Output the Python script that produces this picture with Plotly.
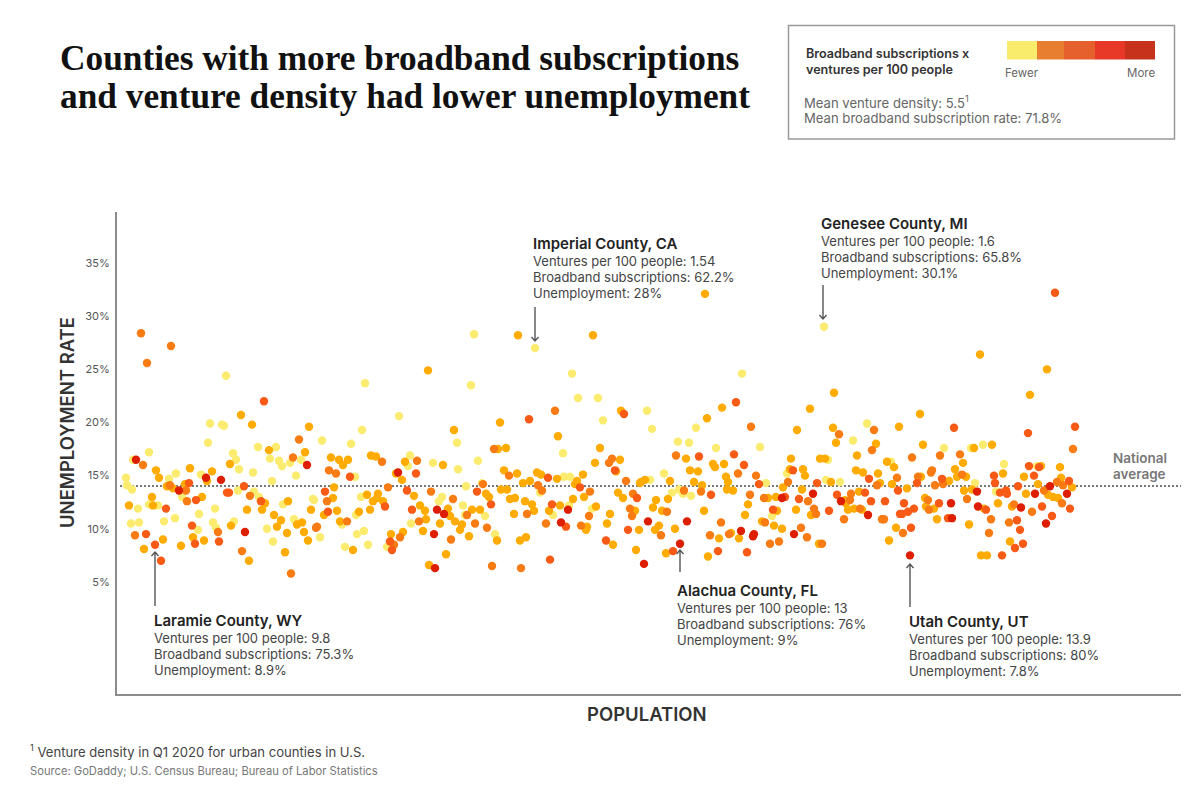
import plotly.graph_objects as go

# (population rank, unemployment %) by colour class
yellow = [(109,24.4),(248,23.7),(93,19.9),(105,19.8),(107,19.7),(245,19.3),(205,18.3),(91,18.1),(234,18.0),(141,17.7),(159,17.7),
(116,17.1),(32,17.2),(153,16.6),(184,16.5),(162,16.4),(173,16.2),(165,15.9),(119,16.5),(122,15.6),(16,16.5),(136,15.3),(59,15.2),
(84,15.1),(179,15.0),(238,14.9),(52,14.7),(9,14.8),(155,14.5),(10,14.1),(15,13.7),(121,13.6),(137,13.5),(142,13.0),(65,13.0),
(166,12.3),(196,12.8),(197,12.7),(244,13.0),(32,12.3),(41,12.2),(21,11.9),(98,11.9),(82,11.4),(239,11.3),(58,11.0),(47,10.7),
(14,10.5),(22,10.6),(177,10.9),(225,10.4),(96,10.6),(99,10.1),(117,10.7),(150,10.0),(81,9.9),(247,9.8),(240,9.5),(203,9.2),
(156,8.8),(251,8.5),(228,8.3),
(357,28.3),(418,27.0),(455,24.6),(354,23.5),(461,22.3),(481,22.3),(486,20.2),(282,20.6),(340,18.1),(446,17.1),(293,16.9),(361,16.4),
(291,15.9),(316,16.2),(341,15.6),(447,14.9),(453,14.9),(365,14.3),(349,14.0),(423,13.4),(325,13.0),(322,12.6),(452,12.2),(346,12.2),
(348,11.3),(368,11.2),(436,11.3),(475,11.9),(294,10.5),(378,9.5),(270,8.3),
(707,29.0),(625,24.6),(530,21.1),(750,19.9),(579,19.5),(535,19.4),(561,18.2),(572,18.1),(736,18.3),(599,17.6),(643,17.7),(711,16.5),
(774,16.3),(547,15.2),(670,15.2),(533,14.6),(709,14.6),(723,14.4),(649,14.3),(562,13.7),(566,13.3),(555,13.4),(574,13.1),(655,11.2),
(827,17.6),(854,17.6),(866,17.9),(887,16.1),(920,15.9),(858,14.3),(879,13.5)]

amber = [(124,20.7),(135,19.8),(192,19.6),(152,17.4),(188,17.2),(254,16.9),(259,16.8),(214,16.7),(222,16.5),(231,16.5),(226,16.0),(113,16.1),
(73,15.7),(39,15.5),(95,15.4),(42,14.8),(90,14.5),(68,14.2),(50,14.0),(56,13.8),(217,13.9),(85,13.0),(35,13.0),(148,12.4),(171,12.6),
(216,12.9),(250,13.2),(261,13.3),(256,12.6),(260,12.9),(12,12.2),(36,12.2),(130,11.8),(145,11.8),(194,11.8),(253,11.8),(157,11.3),
(220,11.7),(207,11.3),(242,11.6),(164,10.8),(223,10.7),(180,10.4),(185,10.6),(114,10.3),(160,10.2),(187,9.7),(170,9.6),(76,9.2),
(46,9.0),(87,8.9),(191,8.9),(64,8.4),(27,8.1),(236,8.0),(168,7.8),(132,7.0),
(401,28.2),(476,28.2),(311,24.9),(504,21.1),(383,20.0),(337,19.3),(441,18.7),(483,17.6),(381,17.5),(389,17.6),(503,16.5),(478,16.2),
(288,16.3),(326,16.0),(387,15.5),(400,15.2),(499,15.4),(420,15.3),(424,15.1),(440,14.7),(466,15.1),(279,15.2),(285,14.6),(460,14.5),
(458,14.2),(413,14.5),(406,14.3),(523,14.3),(384,13.7),(390,13.7),(501,13.4),(369,13.3),(372,13.0),(297,13.1),(506,12.9),(393,12.8),
(398,12.9),(456,12.8),(467,13.0),(408,12.6),(266,12.6),(303,12.2),(415,12.3),(443,12.2),(308,11.7),(331,11.9),(355,11.8),(363,11.8),
(333,11.2),(397,11.4),(417,11.7),(432,11.7),(479,12.1),(493,11.4),(518,11.7),(309,10.9),(338,10.7),(323,10.5),(345,10.4),(490,10.5),
(470,10.2),(469,9.9),(343,9.9),(306,9.8),(522,9.9),(274,9.5),(286,9.7),(352,9.3),(380,8.9),(403,8.9),(409,9.2),(496,8.5),(519,8.0),
(329,7.6),(312,6.6),
(588,32.1),(717,22.8),(605,21.4),(693,21.3),(590,20.4),(680,19.3),(716,19.5),(782,19.6),(719,18.1),(759,18.0),(740,16.9),(569,16.6),(674,16.6),
(703,16.6),(708,16.6),(770,16.3),(777,15.8),(596,16.1),(598,15.8),(607,16.1),(573,15.5),(581,15.4),(673,15.6),(686,15.6),(739,15.5),
(746,15.3),(688,15.0),(761,15.2),(609,14.9),(528,14.6),(524,14.4),(553,14.5),(577,14.4),(611,14.4),(714,14.4),(763,14.3),(775,14.2),
(585,14.1),(666,13.9),(610,13.7),(616,13.6),(685,13.7),(742,13.5),(659,13.0),(651,12.9),(728,12.7),(551,12.8),(539,12.7),(631,12.3),
(729,12.4),(536,12.0),(660,11.7),(737,11.9),(731,11.8),(745,11.8),(679,11.8),(587,11.7),(545,11.7),(628,11.3),(694,11.3),(645,10.7),
(542,10.3),(538,9.9),(558,10.0),(657,10.3),(665,10.0),(779,10.1),(614,9.6),(602,9.1),(622,9.1),(702,8.6),(772,8.9),(549,7.7),(591,7.4),
(863,26.4),(930,25.0),(913,22.6),(803,20.8),(806,17.9),(857,17.6),(875,17.9),(846,16.2),(924,15.9),(943,15.8),(838,15.6),(886,15.2),
(804,14.9),(840,14.9),(849,14.9),(907,14.9),(832,14.5),(944,14.8),(955,13.9),(921,14.2),(790,13.8),(847,13.6),(855,13.7),(909,13.3),
(931,13.2),(936,13.0),(941,12.9),(808,12.9),(881,12.4),(809,12.1),(817,11.9),(867,11.9),(895,12.1),(820,10.9),(852,10.4),(893,8.8),
(864,7.5),(870,7.5)]

orange = [(24,28.4),(54,27.2),(30,25.6),(182,18.4),(265,16.3),(176,16.7),(26,16.0),(212,15.5),(219,15.2),(53,14.1),(69,13.6),(133,13.1),
(70,12.6),(210,12.6),(101,9.7),(199,10.1),(200,10.2),(230,10.7),(18,9.4),(125,7.9),(174,5.8),
(438,21.1),(377,17.5),(300,16.4),(495,16.6),(492,16.2),(392,15.0),(509,14.5),(366,14.2),(421,14.1),(271,13.9),(314,13.5),(425,13.6),
(473,13.5),(516,13.3),(336,12.8),(513,11.9),(515,11.2),(350,11.3),(410,11.4),(472,11.2),(302,10.7),(358,10.5),(429,10.5),(464,10.3),
(370,10.1),(283,9.2),(334,9.0),(277,8.5),(375,6.5),(404,6.3),
(634,19.6),(757,19.3),(722,18.9),(755,17.4),(559,16.9),(621,15.2),(639,15.0),(780,14.8),(671,14.4),(760,14.1),(567,13.6),(584,13.5),
(633,13.2),(734,13.3),(647,12.9),(733,12.7),(691,12.6),(697,11.9),(743,11.9),(550,11.6),(699,11.4),(727,10.9),(765,10.9),(767,10.9),
(648,10.6),(604,10.6),(684,10.1),(544,9.4),(593,9.4),(612,9.5),(690,9.2),(662,8.8),(653,8.6),(705,8.6),
(956,17.5),(795,16.7),(823,16.9),(843,17.0),(815,15.5),(814,15.3),(801,14.9),(845,15.1),(826,14.2),(818,14.1),(940,14.4),(946,14.1),
(927,13.6),(811,12.7),(850,12.8),(945,12.4),(812,11.8),(897,12.3),(915,11.6),(874,10.9),(892,10.6),(786,9.6),(872,9.6)]

red_orange = [(147,22.0),(233,14.9),(72,14.3),(127,14.0),(208,13.5),(110,13.4),(112,13.4),(79,12.7),(144,12.6),(49,11.9),(211,11.6),(75,10.3),
(29,9.5),(78,8.6),(102,8.8),(38,8.5),(44,7.0),
(507,20.8),(412,20.3),(498,15.5),(431,14.8),(299,15.2),(463,13.9),(290,13.6),(360,13.5),(520,12.9),(268,12.1),(374,12.3),(435,12.3),
(295,11.8),(449,10.2),(511,9.9),(489,8.9),(273,8.8),(275,8.0),(433,7.1),
(619,21.9),(582,16.8),(617,17.0),(627,16.0),(676,15.5),(752,14.7),(642,14.2),(700,14.3),(594,13.2),(781,13.6),(748,13.4),(720,13.2),
(668,13.0),(682,12.8),(754,12.6),(768,12.6),(656,11.8),(712,11.7),(783,11.4),(556,7.9),(601,7.9),(630,7.8),
(938,32.2),(837,19.5),(911,19.0),(958,19.6),(912,15.9),(922,15.8),(877,15.0),(917,15.0),(825,14.7),(800,14.3),(878,14.3),(952,14.5),
(901,14.0),(883,13.4),(889,13.6),(890,13.3),(787,12.4),(822,12.4),(869,11.8),(925,12.1),(953,11.9),(797,11.9),(791,11.6),(785,11.4),
(935,11.2),(831,11.0),(900,10.8),(794,10.1),(903,9.9),(906,8.6),(898,8.2),(885,7.5)]

dark_red = [(19,16.5),(190,16.0),(89,14.8),(104,14.6),(62,13.6),(128,9.7),
(281,15.3),(451,11.8),(320,11.8),(327,11.4),(444,10.6),(317,9.5),(318,6.3),
(696,13.3),(665,12.9),(724,12.6),(751,11.3),(531,10.7),(570,10.7),(624,9.8),(637,9.5),(636,9.3),(677,9.5),(563,8.6),(527,6.7),
(933,14.0),(860,13.5),(918,13.3),(950,13.3),(834,12.4),(861,12.1),(904,12.0),(835,11.0),(929,10.5),(793,7.5)]

classes = [("Fewer", yellow, "#FBEC6F"), ("Low", amber, "#FFAB00"), ("Mid", orange, "#F97B14"),
           ("High", red_orange, "#F95A16"), ("More", dark_red, "#DD1E00")]

y_ticks = [5, 10, 15, 20, 25, 30, 35]
y_tick_labels = ["5%", "10%", "15%", "20%", "25%", "30%", "35%"]
national_average = 14.03
legend_colors = ["#F9EB6C", "#E87F30", "#E6602D", "#E83828", "#C7321C"]
GRAY = "#8C8C8C"
SANS = "Inter, Lato, sans-serif"

L, R, T, B = 117, 1181, 212, 694
def px(x): return (x - L) / (R - L)
def py(y): return (B - y) / (B - T)

fig = go.Figure()
for name, pts, col in classes:
    fig.add_trace(go.Scatter(x=[p[0] for p in pts], y=[p[1] for p in pts], mode="markers", name=name,
                             marker=dict(size=8.4, color=col, line=dict(width=0)), showlegend=False))

ann = []
def text(x, y, s, size=13, color="#444444", anchor="left", weight=400, font=SANS, angle=0):
    dx = {"left": -2, "right": 2, "center": 0}[anchor]
    ann.append(dict(x=px(x + dx), y=py(y), xref="paper", yref="paper", text=s, showarrow=False,
                    xanchor=anchor, yanchor="middle", align=anchor, textangle=angle,
                    font=dict(size=size, color=color, family=font, weight=weight)))

shapes = []
def arrow(x, y0, y1):
    s = 1 if y1 > y0 else -1
    path = (f"M {px(x)} {py(y0)} L {px(x)} {py(y1)} "
            f"M {px(x - 3.5)} {py(y1 - s * 4)} L {px(x)} {py(y1)} L {px(x + 3.5)} {py(y1 - s * 4)}")
    shapes.append(dict(type="path", xref="paper", yref="paper", path=path, line=dict(color="#555555", width=1.4)))

# title
text(60, 58, "Counties with more broadband subscriptions", 35.3, "#111111", weight=700, font="Liberation Serif")
text(60, 97, "and venture density had lower unemployment", 35.3, "#111111", weight=700, font="Liberation Serif")

# legend box text
text(806, 53, "Broadband subscriptions x", 12.6, "#333333", weight=600)
text(806, 70, "ventures per 100 people", 12.6, "#333333", weight=600)
text(1005, 73, "Fewer", 11.5, "#666666")
text(1155, 73, "More", 11.5, "#666666", anchor="right")
text(804, 102, "Mean venture density: 5.5<sup>1</sup>", 13.1, "#666666")
text(804, 118, "Mean broadband subscription rate: 71.8%", 13.1, "#666666")

# callouts
callouts = [
    (533, 243, "Imperial County, CA", "1.54", "62.2%", "28%"),
    (821, 223, "Genesee County, MI", "1.6", "65.8%", "30.1%"),
    (154, 620, "Laramie County, WY", "9.8", "75.3%", "8.9%"),
    (677, 590, "Alachua County, FL", "13", "76%", "9%"),
    (909, 621, "Utah County, UT", "13.9", "80%", "7.8%"),
]
for x, y, name, v, b, u in callouts:
    text(x, y, name, 15, "#222222", weight=600)
    text(x, y + 18, f"Ventures per 100 people: {v}", 13)
    text(x, y + 34, f"Broadband subscriptions: {b}", 13)
    text(x, y + 50, f"Unemployment: {u}", 13)

# axis labels and footer
text(67, 423, "UNEMPLOYMENT RATE", 18.5, "#333333", anchor="center", weight=600, angle=-90)
text(647, 714, "POPULATION", 18.5, "#333333", anchor="center", weight=600)
text(1113, 458, "National", 13.5, "#777777", weight=600)
text(1113, 474, "average", 13.5, "#777777", weight=600)
text(30, 751, "<sup>1</sup> Venture density in Q1 2020 for urban counties in U.S.", 13.1, "#444444")
text(30, 771, "Source: GoDaddy; U.S. Census Bureau; Bureau of Labor Statistics", 11.2, "#777777")

shapes += [
    dict(type="line", xref="x", yref="y", x0=3, x1=1064, y0=national_average, y1=national_average,
         line=dict(color="#777777", width=2, dash="2px,2px"), layer="below"),
    dict(type="rect", xref="paper", yref="paper", x0=px(788.5), x1=px(1174.5), y0=py(139), y1=py(25.5),
         line=dict(color="#999999", width=1.5), fillcolor="rgba(0,0,0,0)"),
]
arrow(535, 307, 341)
arrow(823, 285, 319)
arrow(155, 606, 552)
arrow(680, 572, 550)
arrow(910, 607, 564)

edges = [1007, 1037, 1064, 1095, 1125, 1155]
for i, c in enumerate(legend_colors):
    shapes.append(dict(type="rect", xref="paper", yref="paper", x0=px(edges[i]), x1=px(edges[i + 1]),
                       y0=py(59.5), y1=py(41), line=dict(width=0), fillcolor=c))

fig.update_layout(
    width=1200, height=800, margin=dict(l=L, r=1200 - R, t=T, b=800 - B),
    plot_bgcolor="white", paper_bgcolor="white", showlegend=False,
    xaxis=dict(range=[0, 1064], showgrid=False, zeroline=False, showticklabels=False, ticks="",
               showline=True, linecolor=GRAY, linewidth=2),
    yaxis=dict(range=[-5.54, 39.8], showgrid=False, zeroline=False, tickmode="array", tickvals=y_ticks, ticktext=y_tick_labels,
               ticks="outside", ticklen=3, tickcolor="rgba(0,0,0,0)", tickfont=dict(size=11, color="#555555", family=SANS),
               showline=True, linecolor=GRAY, linewidth=2),
    annotations=ann, shapes=shapes,
)
fig.write_html("out.html", config={"displayModeBar": False}, post_script="document.body.style.margin='0';")
